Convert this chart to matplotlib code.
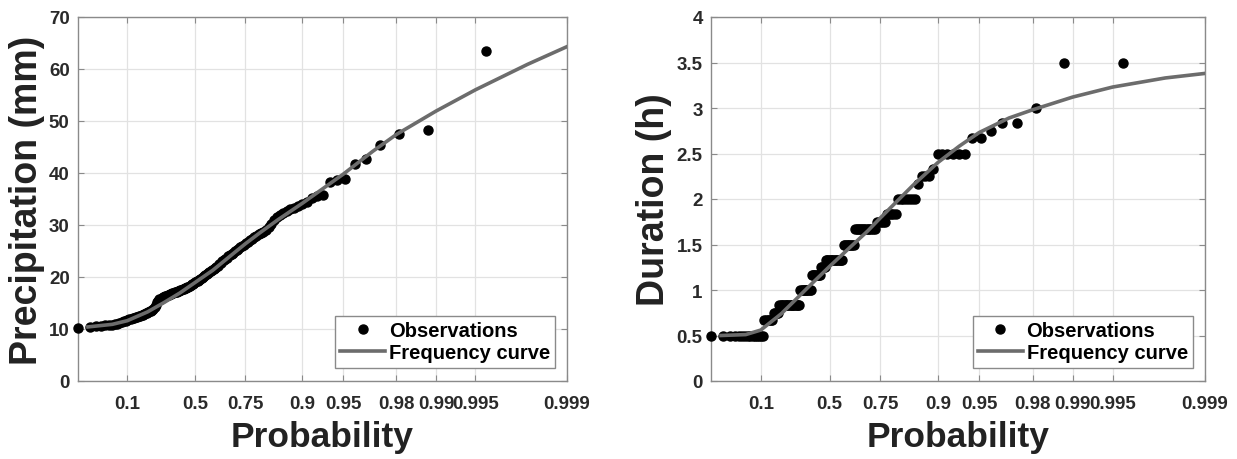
import numpy as np
import matplotlib
matplotlib.use('Agg')
import matplotlib.pyplot as plt
from matplotlib.ticker import FixedLocator, FixedFormatter, NullLocator

plt.rcParams['font.family'] = ['Liberation Sans', 'DejaVu Sans']
plt.rcParams['font.weight'] = 'bold'
plt.rcParams['axes.labelweight'] = 'bold'

prob_ticks = [0.1, 0.5, 0.75, 0.9, 0.95, 0.98, 0.99, 0.995, 0.999]
prob_labels = ['0.1', '0.5', '0.75', '0.9', '0.95', '0.98', '0.99', '0.995', '0.999']

# sorted observations
precip_obs = [
    10.2, 10.35, 10.5, 10.6, 10.7, 10.8, 10.85, 10.9, 11.0, 11.15,
    11.3, 11.45, 11.6, 11.7, 11.85, 11.95, 12.05, 12.15, 12.25, 12.35,
    12.45, 12.5, 12.6, 12.7, 12.85, 13.0, 13.1, 13.3, 13.4, 13.55,
    13.7, 13.9, 14.3, 14.7, 15.1, 15.4, 15.7, 15.85, 15.95, 16.1,
    16.2, 16.3, 16.4, 16.5, 16.6, 16.7, 16.8, 16.85, 16.95, 17.05,
    17.1, 17.2, 17.3, 17.4, 17.5, 17.55, 17.65, 17.75, 17.85, 17.9,
    18.0, 18.15, 18.3, 18.45, 18.6, 18.7, 18.85, 19.0, 19.15, 19.3,
    19.45, 19.65, 19.8, 20.0, 20.15, 20.35, 20.5, 20.7, 20.9, 21.1,
    21.35, 21.55, 21.75, 22.0, 22.2, 22.5, 22.75, 23.0, 23.25, 23.5,
    23.75, 23.95, 24.2, 24.45, 24.7, 24.95, 25.2, 25.45, 25.7, 25.95,
    26.25, 26.55, 26.8, 27.1, 27.3, 27.6, 27.9, 28.2, 28.45, 28.75,
    29.1, 29.6, 30.2, 30.9, 31.5, 31.9, 32.3, 32.7, 33.1, 33.3,
    33.6, 34.0, 34.5, 35.2, 35.5, 35.7, 38.3, 38.7, 38.9, 41.8,
    42.6, 45.4, 47.5, 48.2, 63.5,
]
duration_obs = [
    0.5, 0.5, 0.5, 0.5, 0.5, 0.5, 0.5, 0.5, 0.5, 0.5, 0.5, 0.5, 0.5, 0.5, 0.5,
    0.667, 0.667, 0.667, 0.667, 0.667, 0.667,
    0.75, 0.75, 0.75, 0.75,
    0.833, 0.833, 0.833, 0.833, 0.833, 0.833, 0.833, 0.833, 0.833,
    0.833, 0.833, 0.833, 0.833, 0.833, 0.833, 0.833, 0.833,
    1.0, 1.0, 1.0, 1.0, 1.0, 1.0, 1.0, 1.0, 1.0, 1.0,
    1.167, 1.167, 1.167, 1.167, 1.167, 1.167, 1.167, 1.167,
    1.25, 1.25, 1.25, 1.25,
    1.333, 1.333, 1.333, 1.333, 1.333, 1.333, 1.333,
    1.333, 1.333, 1.333, 1.333, 1.333, 1.333, 1.333,
    1.5, 1.5, 1.5, 1.5, 1.5, 1.5, 1.5, 1.5,
    1.667, 1.667, 1.667, 1.667, 1.667, 1.667, 1.667,
    1.667, 1.667, 1.667, 1.667, 1.667, 1.667,
    1.75, 1.75, 1.75, 1.75, 1.75,
    1.833, 1.833, 1.833, 1.833, 1.833,
    2.0, 2.0, 2.0, 2.0, 2.0, 2.0, 2.0,
    2.167, 2.25, 2.25, 2.25, 2.333,
    2.5, 2.5, 2.5, 2.5, 2.5, 2.5,
    2.667, 2.667, 2.75, 2.833, 2.833, 3.0, 3.5, 3.5,
]

# fitted frequency curves
curve_prob = [0.01, 0.05, 0.1, 0.2, 0.3, 0.4, 0.5, 0.6, 0.7, 0.75, 0.8,
              0.85, 0.9, 0.93, 0.95, 0.97, 0.98, 0.99, 0.995, 0.998, 0.999]
precip_curve = [10.4, 10.9, 11.6, 13.3, 15.1, 16.9, 19.0, 21.3, 24.5, 26.4, 28.5,
                31.0, 34.2, 37.1, 39.8, 44.2, 47.4, 51.9, 56.0, 60.9, 64.3]
duration_curve = [0.5, 0.51, 0.56, 0.74, 0.92, 1.09, 1.26, 1.44, 1.65, 1.79, 1.95,
                  2.15, 2.40, 2.58, 2.73, 2.89, 2.98, 3.12, 3.23, 3.33, 3.38]


def gumbel(p):
    p = np.clip(np.asarray(p, dtype=float), 1e-12, 1 - 1e-12)
    return -np.log(-np.log(p))


def gumbel_inv(y):
    return np.exp(-np.exp(-np.asarray(y, dtype=float)))


def gringorten(n):
    rank = np.arange(1, n + 1)
    return (rank - 0.44) / (n + 0.12)


def draw(ax, obs, curve, yticks, ylabels, ylabel):
    p_obs = gringorten(len(obs))
    ax.set_xscale('function', functions=(gumbel, gumbel_inv))
    ax.plot(p_obs, obs, 'o', color='black', ms=6.5, label='Observations',
            zorder=3, clip_on=False)
    ax.plot(curve_prob, curve, '-', color='#6c6c6c', lw=2.6,
            label='Frequency curve', zorder=4)
    ax.set_xlim(p_obs[0], 0.999)
    ax.set_ylim(yticks[0], yticks[-1])
    ax.xaxis.set_major_locator(FixedLocator(prob_ticks))
    ax.xaxis.set_major_formatter(FixedFormatter(prob_labels))
    ax.xaxis.set_minor_locator(NullLocator())
    ax.set_yticks(yticks)
    ax.set_yticklabels(ylabels)
    ax.grid(True, color='#e2e2e2', lw=0.9)
    ax.set_axisbelow(True)
    for s in ax.spines.values():
        s.set_color('#8a8a8a')
        s.set_linewidth(1.0)
    ax.tick_params(direction='in', top=True, right=True, length=4,
                   color='#8a8a8a', labelsize=13.5, labelcolor='#2a2a2a')
    ax.tick_params(axis='x', pad=10)
    ax.tick_params(axis='y', pad=6)
    ax.set_xlabel('Probability', fontsize=25.5, fontweight='bold',
                  color='#222222', labelpad=6)
    ax.set_ylabel(ylabel, fontsize=27, fontweight='bold',
                  color='#222222', labelpad=3)
    leg = ax.legend(loc='lower right', bbox_to_anchor=(0.9755, 0.037),
                    fontsize=14.5, fancybox=False, edgecolor='#8a8a8a',
                    framealpha=1, handlelength=2.2, handletextpad=0.2,
                    borderpad=0.25, labelspacing=0.15, borderaxespad=0)
    leg.get_frame().set_linewidth(1.0)


fig = plt.figure(figsize=(12.37, 4.6), dpi=100)
ax_p = fig.add_axes([78 / 1237, 78 / 460, 489 / 1237, 364 / 460])
ax_d = fig.add_axes([711 / 1237, 78 / 460, 494 / 1237, 364 / 460])

draw(ax_p, precip_obs, precip_curve, [0, 10, 20, 30, 40, 50, 60, 70],
     ['0', '10', '20', '30', '40', '50', '60', '70'], 'Precipitation (mm)')
draw(ax_d, duration_obs, duration_curve, [0, 0.5, 1, 1.5, 2, 2.5, 3, 3.5, 4],
     ['0', '0.5', '1', '1.5', '2', '2.5', '3', '3.5', '4'], 'Duration (h)')

fig.savefig('out.png', dpi=100)
